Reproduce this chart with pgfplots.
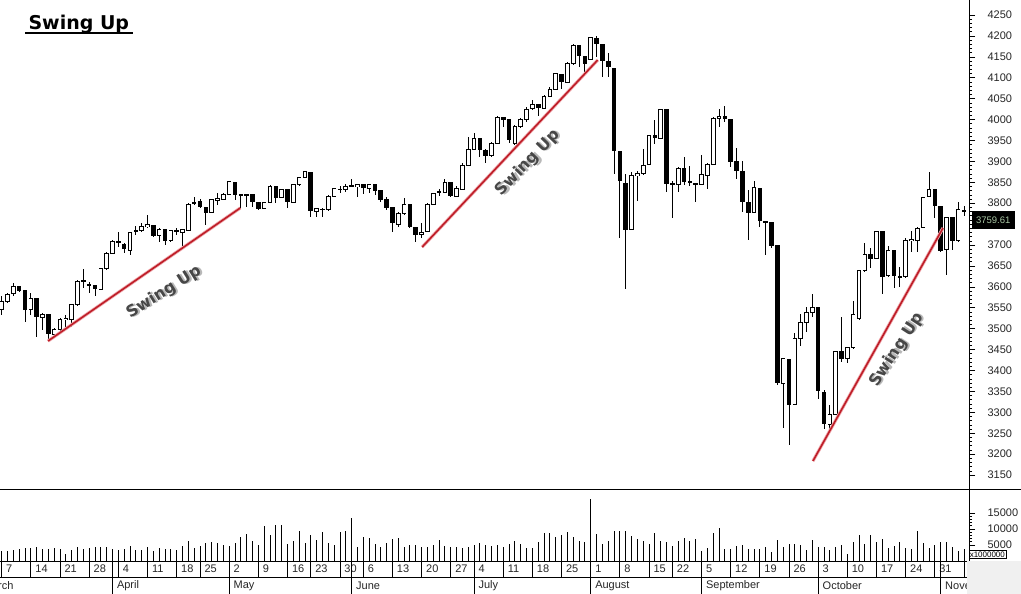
\documentclass[border=0pt]{standalone}
\usepackage{fontspec}
\setmainfont{Liberation Sans}
\newfontfamily\dejavu{DejaVu Sans}
\usepackage{pgfplots}
\usepackage{pgfplotstable}
\pgfplotsset{compat=1.18}

\definecolor{trend}{RGB}{190,30,40}
\definecolor{trendhalo}{RGB}{240,170,175}
\definecolor{lastpx}{RGB}{170,200,165}

% daily candles: index, open, high, low, close, volume (x1000000)
\pgfplotstableread{
i o h l c v
0 3545 3577 3533 3565 2970
1 3565 3585 3561 3582 3270
2 3583 3610 3577 3602 3580
3 3600 3602 3588 3591 3790
4 3591 3593 3517 3545 3990
5 3545 3585 3533 3573 4090
6 3571 3573 3481 3529 4300
7 3526 3537 3497 3534 3790
8 3534 3536 3473 3489 3680
9 3487 3501 3477 3497 3990
10 3497 3525 3493 3521 3680
11 3521 3533 3505 3525 2250
12 3521 3560 3505 3558 3480
13 3557 3616 3554 3614 4300
14 3614 3642 3597 3616 3680
15 3605 3612 3585 3605 4090
16 3603 3605 3577 3597 4300
17 3594 3644 3593 3643 4500
18 3644 3684 3640 3680 4500
19 3680 3712 3680 3708 3790
20 3709 3730 3696 3705 3480
21 3702 3704 3680 3691 3790
22 3688 3732 3676 3730 4810
23 3734 3745 3724 3734 3480
24 3734 3752 3732 3745 3480
25 3744 3772 3740 3748 4300
26 3746 3748 3720 3724 3270
27 3722 3740 3708 3736 3990
28 3738 3738 3700 3712 3790
29 3710 3736 3708 3734 3790
30 3733 3740 3724 3735 3580
31 3730 3736 3692 3736 4810
32 3734 3800 3734 3798 6140
33 3801 3816 3796 3802 3990
34 3804 3809 3788 3792 4810
35 3790 3792 3748 3778 5520
36 3778 3809 3776 3808 5830
37 3806 3825 3796 3812 5520
38 3809 3825 3808 3822 5120
39 3821 3854 3820 3852 4600
40 3849 3849 3808 3820 5630
41 3820 3820 3788 3819 7570
42 3820 3820 3792 3819 8590
43 3820 3820 3792 3804 6140
44 3801 3804 3784 3788 5120
45 3788 3804 3786 3802 10950
46 3802 3844 3801 3840 8180
47 3840 3841 3800 3814 11250
48 3813 3835 3812 3833 11150
49 3833 3834 3788 3804 5320
50 3801 3846 3800 3844 6340
51 3844 3863 3842 3861 9410
52 3862 3878 3860 3875 5630
53 3874 3875 3768 3782 8180
54 3781 3789 3768 3788 6550
55 3786 3788 3766 3786 9210
56 3784 3820 3782 3817 5630
57 3817 3837 3817 3836 5120
58 3833 3840 3824 3833 9210
59 3832 3846 3828 3840 9410
60 3841 3858 3838 3842 13300
61 3840 3844 3816 3844 4300
62 3845 3845 3822 3838 7570
63 3836 3847 3824 3845 7060
64 3845 3845 3820 3830 5320
65 3830 3830 3804 3810 4500
66 3810 3816 3784 3790 5520
67 3790 3792 3732 3753 6850
68 3750 3780 3742 3776 7160
69 3776 3812 3772 3797 4500
70 3797 3797 3740 3744 5120
71 3742 3744 3708 3726 5120
72 3726 3752 3716 3730 4300
73 3732 3800 3732 3798 4500
74 3797 3825 3796 3824 5120
75 3827 3833 3817 3828 6550
76 3826 3858 3824 3850 4600
77 3850 3851 3814 3818 4300
78 3817 3841 3816 3834 4300
79 3833 3895 3832 3891 4090
80 3891 3959 3889 3929 4500
81 3929 3967 3927 3955 5120
82 3955 3957 3911 3929 5520
83 3927 3929 3895 3914 5120
84 3913 3947 3911 3942 4810
85 3943 4009 3942 4005 5120
86 4005 4005 3983 4001 4500
87 3999 3999 3943 3953 5320
88 3942 3987 3939 3983 6340
89 3983 4003 3981 4001 5320
90 4001 4029 3995 4025 4090
91 4027 4047 4023 4037 4090
92 4035 4035 4008 4029 5930
93 4027 4058 4025 4055 8700
94 4055 4079 4053 4071 8700
95 4073 4112 4071 4109 7470
96 4107 4108 4072 4091 7980
97 4089 4137 4087 4134 9000
98 4134 4181 4130 4178 7470
99 4176 4177 4126 4152 6340
100 4150 4150 4110 4134 5930
101 4144 4198 4142 4197 19440
102 4194 4200 4150 4182 8390
103 4180 4180 4101 4142 5320
104 4138 4158 4102 4126 6340
105 4122 4122 3871 3926 9510
106 3923 3923 3718 3854 9410
107 3847 3871 3594 3738 9510
108 3737 3875 3736 3866 7670
109 3866 3878 3806 3871 6960
110 3870 3929 3867 3891 6140
111 3893 3963 3891 3961 5320
112 3963 3999 3942 3958 8700
113 3955 4025 3954 4024 6140
114 4023 4023 3828 3848 5930
115 3846 3852 3765 3846 4600
116 3844 3886 3826 3883 6340
117 3883 3911 3844 3852 7160
118 3852 3889 3840 3851 6140
119 3846 3848 3804 3846 6850
120 3845 3915 3843 3869 3270
121 3867 3895 3833 3893 4090
122 3893 4005 3891 4003 8700
123 4003 4025 3983 4008 10430
124 4008 4032 3995 4003 3890
125 4001 4001 3886 3899 3790
126 3899 3931 3859 3878 4600
127 3877 3901 3780 3804 4910
128 3802 3832 3712 3778 3890
129 3778 3854 3776 3838 3890
130 3835 3835 3744 3758 3790
131 3756 3757 3676 3756 4300
132 3754 3754 3692 3700 2860
133 3698 3698 3365 3372 6650
134 3369 3429 3262 3429 4300
135 3427 3427 3222 3319 5320
136 3319 3490 3317 3477 5320
137 3477 3535 3459 3515 4910
138 3515 3553 3493 3538 3580
139 3539 3583 3527 3551 6650
140 3551 3551 3333 3352 4300
141 3348 3353 3259 3274 4300
142 3272 3317 3258 3295 3580
143 3295 3447 3294 3445 4300
144 3445 3529 3421 3429 4910
145 3428 3457 3417 3455 2250
146 3455 3567 3451 3534 5830
147 3525 3640 3521 3638 8180
148 3638 3704 3636 3678 5420
149 3678 3692 3644 3668 8180
150 3668 3734 3667 3732 5830
151 3732 3732 3584 3624 6960
152 3626 3698 3623 3688 4090
153 3688 3688 3598 3628 4600
154 3624 3647 3600 3625 5830
155 3624 3716 3621 3710 4090
156 3710 3734 3684 3714 3890
157 3712 3744 3684 3740 9410
158 3742 3816 3740 3814 5630
159 3817 3875 3816 3833 4090
160 3833 3833 3764 3794 5120
161 3792 3792 3684 3688 5930
162 3690 3766 3628 3766 5930
163 3766 3766 3688 3712 4400
164 3710 3802 3708 3785 3070
165 3782 3793 3769 3782 3890
}\data

\pgfplotsset{
  candle/.style={draw=none, mark=none, forget plot,
    error bars/y dir=both, error bars/y explicit, error bars/error mark=none},
  panel/.style={scale only axis, anchor=south west,
    xmin=-0.2915, xmax=165.86,
    axis line style={draw=none},
    tick align=outside, major tick length=6pt, minor tick length=3pt,
    tick style={black, line width=0.6pt},
    xtick=\empty, ytick pos=right, yticklabel pos=right,
    yticklabel style={font=\fontsize{11}{13}\selectfont, text=black!85, anchor=west, xshift=9pt},
    /pgf/number format/1000 sep={}, /pgf/number format/assume math mode=true},
  daterow/.style={scale only axis, anchor=south west,
    xmin=-0.2915, xmax=165.86, ymin=0, ymax=1,
    axis line style={draw=none}, ytick=\empty,
    major tick length=0pt, xmajorgrids,
    major grid style={black, line width=0.8pt},
    xticklabel style={font=\fontsize{11}{13}\selectfont, text=black!85, anchor=west, xshift=1pt}},
}
\tikzset{
  swing/.style={rotate=#1, text=black!72, font=\dejavu\bfseries\fontsize{16}{16}\selectfont},
  swingshadow/.style={rotate=#1, text=black!28, font=\dejavu\bfseries\fontsize{16}{16}\selectfont, xshift=1.6pt, yshift=-1.6pt},
}

\begin{document}
\begin{tikzpicture}
\fill[white] (0pt,0pt) rectangle (1021pt,594pt);

% price panel
\begin{axis}[panel, at={(0pt,104pt)}, width=969pt, height=490pt,
  ymin=3114.3, ymax=4285.9, clip mode=individual,
  ytick={3150,3200,...,4250}, minor y tick num=4,
]
% wicks
\addplot[candle, error bars/error bar style={draw=black, line width=0.9pt, line cap=butt}]
  table[x=i, y expr={(\thisrow{h}+\thisrow{l})/2}, y error expr={(\thisrow{h}-\thisrow{l})/2}] {\data};
% bodies (black frame)
\addplot[candle, error bars/error bar style={draw=black, line width=4.6pt, line cap=butt}]
  table[x=i, y expr={(\thisrow{o}+\thisrow{c})/2}, y error expr={abs(\thisrow{o}-\thisrow{c})/2+1.2}] {\data};
% hollow inside of up days
\addplot[candle, error bars/error bar style={draw=white, line width=2.8pt, line cap=butt}]
  table[x=i, y expr={(\thisrow{o}+\thisrow{c})/2}, y error expr={(\thisrow{c}>\thisrow{o}) ? max(0,(\thisrow{c}-\thisrow{o})/2-1.2) : 0}] {\data};

% trend lines
\addplot[trendhalo, line width=3.2pt, forget plot] coordinates {(7.94,3470.5) (40.9,3788.5)};
\addplot[trend, line width=1.6pt, forget plot] coordinates {(7.94,3470.5) (40.9,3788.5)};
\addplot[trendhalo, line width=3.2pt, forget plot] coordinates {(72.1,3695.3) (102.2,4142.4)};
\addplot[trend, line width=1.6pt, forget plot] coordinates {(72.1,3695.3) (102.2,4142.4)};
\addplot[trendhalo, line width=3.2pt, forget plot] coordinates {(139.1,3183.6) (161.4,3740.7)};
\addplot[trend, line width=1.6pt, forget plot] coordinates {(139.1,3183.6) (161.4,3740.7)};

\node[swingshadow=32] at (axis cs:27.83,3587.7) {Swing Up};
\node[swing=32] at (axis cs:27.83,3587.7) {Swing Up};
\node[swingshadow=46] at (axis cs:90.25,3896.1) {Swing Up};
\node[swing=46] at (axis cs:90.25,3896.1) {Swing Up};
\node[swingshadow=57] at (axis cs:153.5,3449) {Swing Up};
\node[swing=57] at (axis cs:153.5,3449) {Swing Up};

\node[fill=black, text=lastpx, font=\fontsize{9.5}{10}\selectfont, minimum width=43pt, minimum height=18pt, inner sep=0pt, anchor=west]
  at (axis cs:165.86,3759.61) [xshift=2.5pt] {3759.61};
\end{axis}

% volume panel
\begin{axis}[panel, at={(0pt,33pt)}, width=969pt, height=71pt,
  ymin=0, ymax=22187,
  ytick={5000,10000,15000}, minor y tick num=4, scaled y ticks=false,
]
\addplot[ycomb, black, line width=0.9pt, mark=none] table[x=i, y=v] {\data};
\end{axis}

% week ticks (upper date row)
\begin{axis}[daterow, at={(0pt,17pt)}, width=969pt, height=16pt,
  xtick={0,5,10,15,20,25,30,34,39,44,49,53,58,62,67,72,77,81,86,91,96,101,106,111,115,120,125,130,135,140,145,150,155,160,165},
  xticklabels={7,14,21,28,4,11,18,25,2,9,16,23,30,6,13,20,27,4,11,18,25,1,8,15,22,5,12,19,26,3,10,17,24,31,7},
  xticklabel style={yshift=8pt},
]
\end{axis}

% month boundaries (full height of both rows)
\begin{axis}[daterow, at={(0pt,0pt)}, width=969pt, height=33pt,
  xtick={19,39,60,81,101,120,140,161},
  xticklabels={April,May,June,July,August,September,October,November},
  xticklabel style={yshift=8pt},
]
\end{axis}

% panel frame lines
\draw[black, line width=0.8pt] (969pt,33pt) -- (969pt,594pt);
\draw[black, line width=0.8pt] (0pt,33pt) -- (969pt,33pt);
\draw[black, line width=0.8pt] (0pt,17pt) -- (967pt,17pt);
\draw[black, line width=1pt] (0pt,104pt) -- (1021pt,104pt);
\node[anchor=east, font=\fontsize{11}{13}\selectfont, text=black!85] at (17pt,8pt) {March};
\fill[black!6] (967pt,0pt) rectangle (1021pt,32.6pt);
\node[draw=black, line width=0.5pt, fill=white, inner sep=1pt, font=\fontsize{8}{8}\selectfont, anchor=south west] at (968.5pt,35.5pt) {x1000000};

% title
\node[anchor=base west, font=\dejavu\bfseries\fontsize{19}{19}\selectfont] (t) at (25pt,564.7pt) {Swing Up};
\draw[line width=1.8pt] ([yshift=-4pt]t.base west) -- ([yshift=-4pt]t.base east);

\pgfresetboundingbox
\path[use as bounding box] (0pt,0pt) rectangle (1021pt,594pt);
\end{tikzpicture}
\end{document}
